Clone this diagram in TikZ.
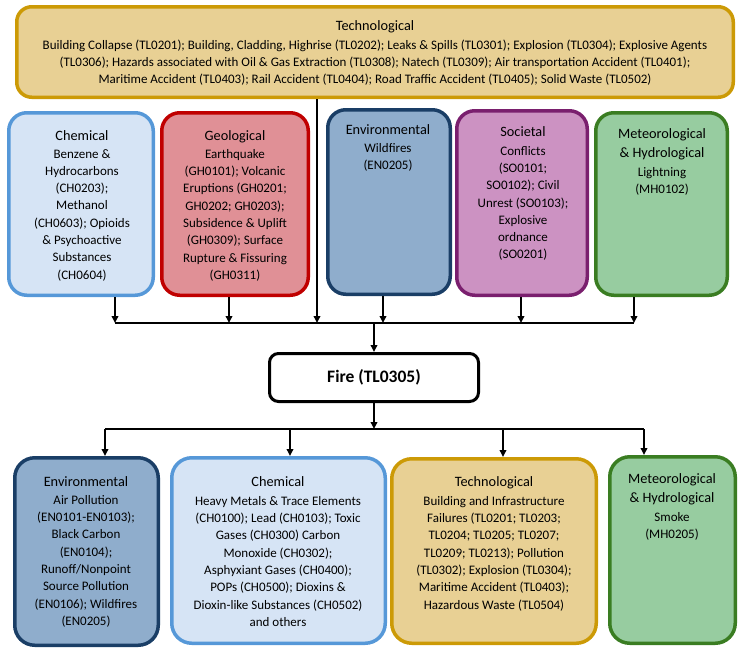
\documentclass[tikz,border=0pt]{standalone}
\usepackage{fontspec}
\setmainfont{Carlito}
\usetikzlibrary{arrows.meta}

\definecolor{chemfill}{RGB}{214,228,245}
\definecolor{chemline}{RGB}{86,152,216}
\definecolor{geofill}{RGB}{224,144,150}
\definecolor{geoline}{RGB}{192,0,0}
\definecolor{envfill}{RGB}{143,173,204}
\definecolor{envline}{RGB}{26,62,102}
\definecolor{socfill}{RGB}{204,146,194}
\definecolor{socline}{RGB}{122,31,110}
\definecolor{metfill}{RGB}{151,204,160}
\definecolor{metline}{RGB}{58,125,34}
\definecolor{techfill}{RGB}{232,208,148}
\definecolor{techline}{RGB}{204,154,6}

\begin{document}
\begin{tikzpicture}[x=1pt, y=-1pt,
  hbox/.style={draw, line width=3.5pt, rounded corners=18pt, inner sep=0pt},
  ttl/.style={font=\fontsize{14.3}{19}\selectfont, align=center, inner sep=0pt, anchor=north},
  body/.style={font=\fontsize{13}{17.3}\selectfont, align=center, inner sep=0pt, anchor=north},
  arr/.style={line width=1.8pt, -{Triangle[length=7pt, width=6.5pt]}},
  link/.style={line width=1.8pt}]

\useasboundingbox (0,0) rectangle (750,657);

% top: technological causes
\node [hbox, rounded corners=15pt, fill=techfill, draw=techline, minimum width=716.5pt, minimum height=90.5pt] (techIn) at (375,52) {};
\node [ttl] (techInT) at (375,20.5) {Technological};
\node [body, font=\fontsize{13}{17}\selectfont] (techInB) at (375,40) {Building Collapse (TL0201); Building, Cladding, Highrise (TL0202); Leaks \& Spills (TL0301); Explosion (TL0304); Explosive Agents\\
(TL0306); Hazards associated with Oil \& Gas Extraction (TL0308); Natech (TL0309); Air transportation Accident (TL0401);\\
Maritime Accident (TL0403); Rail Accident (TL0404); Road Traffic Accident (TL0405); Solid Waste (TL0502)};

% second row of causes
\node [hbox, fill=chemfill, draw=chemline, minimum width=144.5pt, minimum height=182.5pt] (chemIn) at (81,204) {};
\node [ttl] (chemInT) at (82,130.5) {Chemical};
\node [body] (chemInB) at (82,149) {Benzene \&\\ Hydrocarbons\\ (CH0203);\\ Methanol\\ (CH0603); Opioids\\ \& Psychoactive\\ Substances\\ (CH0604)};

\node [hbox, fill=geofill, draw=geoline, minimum width=146.5pt, minimum height=182.5pt] (geoIn) at (235,204) {};
\node [ttl] (geoInT) at (235,130.5) {Geological};
\node [body] (geoInB) at (235,149) {Earthquake\\ (GH0101); Volcanic\\ Eruptions (GH0201;\\ GH0202; GH0203);\\ Subsidence \& Uplift\\ (GH0309); Surface\\ Rupture \& Fissuring\\ (GH0311)};

\node [hbox, fill=envfill, draw=envline, minimum width=122.5pt, minimum height=184.5pt] (envIn) at (389,202) {};
\node [ttl] (envInT) at (388,124.5) {Environmental};
\node [body] (envInB) at (388,143) {Wildfires\\ (EN0205)};

\node [hbox, fill=socfill, draw=socline, minimum width=130.5pt, minimum height=184.5pt] (socIn) at (522,203) {};
\node [ttl] (socInT) at (523,126.5) {Societal};
\node [body] (socInB) at (523,146) {Conflicts\\ (SO0101;\\ SO0102); Civil\\ Unrest (SO0103);\\ Explosive\\ ordnance\\ (SO0201)};

\node [hbox, fill=metfill, draw=metline, minimum width=131.5pt, minimum height=182.5pt] (metIn) at (661.5,204) {};
\node [ttl] (metInT) at (662,128.5) {Meteorological\\ \& Hydrological};
\node [body] (metInB) at (662,167) {Lightning\\ (MH0102)};

% fire
\node [draw, line width=3pt, rounded corners=9pt, fill=white, minimum width=209pt, minimum height=48pt, font=\fontsize{17.5}{20}\selectfont\bfseries] (fire) at (374,377.5) {Fire (TL0305)};

% consequences
\node [hbox, rounded corners=20pt, fill=envfill, draw=envline, minimum width=143.5pt, minimum height=187.5pt] (envOut) at (86.5,551.5) {};
\node [ttl] (envOutT) at (86,476.5) {Environmental};
\node [body] (envOutB) at (86,495) {Air Pollution\\ (EN0101-EN0103);\\ Black Carbon\\ (EN0104);\\ Runoff/Nonpoint\\ Source Pollution\\ (EN0106); Wildfires\\ (EN0205)};

\node [hbox, rounded corners=20pt, fill=chemfill, draw=chemline, minimum width=213.5pt, minimum height=185.5pt] (chemOut) at (278.5,550.5) {};
\node [ttl] (chemOutT) at (278,476.5) {Chemical};
\node [body] (chemOutB) at (278,496) {Heavy Metals \& Trace Elements\\ (CH0100); Lead (CH0103); Toxic\\ Gases (CH0300) Carbon\\ Monoxide (CH0302);\\ Asphyxiant Gases (CH0400);\\ POPs (CH0500); Dioxins \&\\ Dioxin-like Substances (CH0502)\\ and others};

\node [hbox, rounded corners=20pt, fill=techfill, draw=techline, minimum width=204.5pt, minimum height=184.5pt] (techOut) at (494,551) {};
\node [ttl] (techOutT) at (494,476.5) {Technological};
\node [body] (techOutB) at (494,496) {Building and Infrastructure\\ Failures (TL0201; TL0203;\\ TL0204; TL0205; TL0207;\\ TL0209; TL0213); Pollution\\ (TL0302); Explosion (TL0304);\\ Maritime Accident (TL0403);\\ Hazardous Waste (TL0504)};

\node [hbox, rounded corners=20pt, fill=metfill, draw=metline, minimum width=125.5pt, minimum height=186.5pt] (metOut) at (672.5,550) {};
\node [ttl] (metOutT) at (672,473.5) {Meteorological\\ \& Hydrological};
\node [body] (metOutB) at (672,512) {Smoke\\ (MH0205)};

% collecting bus above fire
\coordinate (t1) at (115,323);
\coordinate (t2) at (229,323);
\coordinate (t3) at (317,323);
\coordinate (t4) at (383,323);
\coordinate (t5) at (521,323);
\coordinate (t6) at (634,323);

\draw[link] (t1) -- (t6);
\draw[arr] (chemIn.south -| t1) -- (t1);
\draw[arr] (geoIn.south -| t2) -- (t2);
\draw[arr] (techIn.south -| t3) -- (t3);
\draw[arr] (envIn.south -| t4) -- (t4);
\draw[arr] (socIn.south -| t5) -- (t5);
\draw[arr] (metIn.south -| t6) -- (t6);
\draw[arr] (fire.north |- t1) -- (fire.north);

% distributing bus below fire
\coordinate (b1) at (105,429);
\coordinate (b2) at (290,429);
\coordinate (b3) at (503,429);
\coordinate (b4) at (644,429);

\draw[link] (b1) -- (b4);
\draw[arr] (fire.south) -- (fire.south |- b1);
\draw[arr] (b1) -- (envOut.north -| b1);
\draw[arr] (b2) -- (chemOut.north -| b2);
\draw[arr] (b3) -- (techOut.north -| b3);
\draw[arr] (b4) -- (metOut.north -| b4);

\end{tikzpicture}
\end{document}
